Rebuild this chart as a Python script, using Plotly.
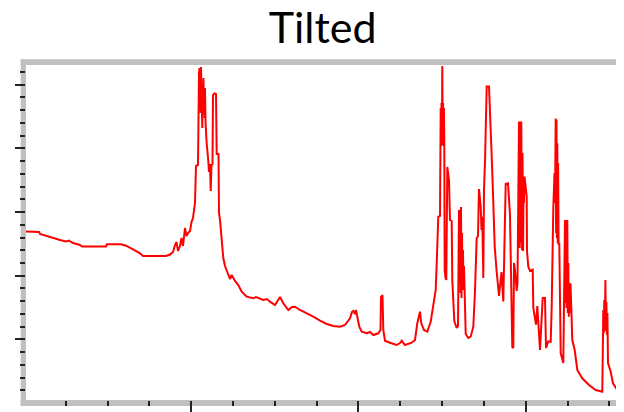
import plotly.graph_objects as go

# Spectrum (x: channel, y: intensity, arbitrary units)
channel = [
    2, 15, 16, 22, 29, 36, 42, 45, 47, 49, 56, 58, 82, 83, 97, 102, 109, 116, 119, 142,
    146, 149, 151, 152.5, 154, 156, 157.5, 159, 161, 162.5, 164, 166, 167.5, 169, 171, 172, 174,
    174.3, 175.0, 175.5, 175.9, 176.3, 176.7, 177.0, 177.4, 177.7, 178.0, 178.3, 178.7, 179.0, 179.5, 179.8, 180.2, 180.6, 181.0, 181.5,
    182.5, 184.3, 185, 186, 186.7, 187.5, 188.5, 189, 190.5, 192, 192.7, 194.5, 195, 196, 197.7, 199.3, 201, 204.3, 206, 207.7,
    209, 211, 214.3, 217.7, 222.7, 229.3, 232, 234, 236, 239.3, 243, 246,
    251, 254, 256, 259.3, 264.3, 268, 271, 276, 282.7, 289.3, 296, 302.7, 309.3, 316, 321, 326, 328, 329.5, 331, 332,
    333.3, 335.3, 337.7, 342.7, 346, 349.3, 354.3, 356.5, 357, 358.5, 359.3, 361, 366, 372.7, 376, 377.7, 381, 387.7, 391, 393.3,
    396, 397.3, 400, 403.3, 406.7, 409.3, 411.7, 412.7, 414.3, 416,
    416.7, 417.1, 417.5, 417.9, 418.3, 418.7, 419.1, 419.5, 419.9, 420.3, 420.7,
    421.5, 422.3, 423.3, 425, 426, 427.7, 428.3, 430.3, 432.7, 434,
    435, 435.5, 436, 436.5, 437, 437.5, 438, 438.5, 439, 439.5, 440, 441,
    441.7, 444.3, 446.7, 449.3, 451, 452.7, 454, 455, 456.7, 457.5, 458.3, 459.3, 460, 461, 462.7, 465, 466, 467.5, 469.3, 470.7,
    472.7, 475, 477.5, 479.3,
    481.7, 484, 486, 486.7, 487, 488.3, 489.3, 490, 491, 492.7, 493.5,
    495, 495.6, 496.2, 496.8, 497.3, 497.9, 498.5, 499.1, 499.6, 500, 500.5, 502.7, 503,
    504.3, 506, 508.7, 509.3, 512, 513.3, 515.3, 516, 518.7, 521, 522, 523.3, 524.3, 526.7, 527.7,
    529.3, 530.5, 531, 531.7, 532.1, 532.5, 532.9, 533.3, 533.7, 534.1, 534.6, 535.3, 536.7, 539.3,
    541, 541.5, 542, 542.5, 543.3, 543.8, 544.3, 544.8, 545.3, 546, 546.5, 548.3, 550.7, 553.3, 558.3, 565, 571.7, 578.3,
    579.3, 579.8, 580.3, 580.8, 581.4, 581.9, 582.4, 582.9, 583.4, 584, 586.7, 589, 593.3, 598.3, 600,
]
intensity = [
    171.5, 171, 169, 167, 165, 163, 161.5, 162.5, 161, 160, 158, 156.5, 156.5, 158.7, 158.7, 157.3, 153.7, 149.7, 147, 147,
    148.5, 151, 158, 161, 152, 157, 165, 157, 175, 167, 170, 172, 181, 185, 200, 237, 238,
    311, 330, 335, 300, 325, 290, 336, 300, 328, 290, 275, 318, 300, 325, 290, 308, 285, 315, 282,
    262, 242, 231, 239, 212, 238, 239, 308, 309.5, 309, 249, 249, 190, 183, 165, 145, 137, 127, 124, 128,
    125, 122, 118, 111.3, 106.3, 104.7, 106, 105, 104.7, 103, 104, 101.3,
    98, 103, 106, 99.7, 93, 96, 96.3, 93, 89.7, 86.3, 82.3, 79, 77, 76.3, 78, 84.7, 91, 92, 89, 93,
    86.3, 76.3, 71.3, 69.7, 71, 68, 69.7, 73, 106, 108, 73, 62.3, 60.3, 58, 60, 62.3, 58, 60.3, 63, 79.7,
    91.3, 79.7, 73, 71.3, 81.3, 96.3, 113, 139.7, 186.3, 187,
    295, 257, 300, 258, 337, 262, 300, 257, 295, 260, 133,
    125, 123, 236, 223, 183, 182, 123, 82, 75, 77,
    193, 120, 190, 110, 196, 105, 170, 120, 153, 113, 137, 103,
    69, 65, 66.3, 76.3, 112, 165, 167, 214, 196.3, 173, 186.3, 125, 213, 241, 316.5, 316.5, 281.5, 252, 201, 156.3,
    131, 107, 131, 101.5,
    219, 219.7, 188, 136, 98, 56, 55, 140, 133, 112, 120,
    281.5, 155, 281.5, 160, 281.5, 153, 250, 152, 226.5, 200, 226.5, 206.5, 152,
    136.3, 132, 133.3, 95, 78.3, 97, 55, 53, 105, 105, 55, 58, 61.7, 61.3, 96.7,
    195, 230, 200, 284.5, 170, 283.3, 165, 259.7, 160, 240, 158, 160, 50, 40,
    183, 100, 183, 95, 183, 90, 140, 86.3, 119.7, 90, 119.7, 63, 53, 33, 24.7, 18, 13, 11.3,
    93, 70, 103, 75, 123, 72, 101, 68, 90, 40, 31.3, 19.7, 13, 8, 9.7,
]
assert len(channel) == len(intensity)

title_text = "Tilted"

# the page body adds an 8px offset, so the figure is drawn 8px smaller
W, H = 616, 404
ml, mr, mt, mb = 18, 0, 57, 12
pw, ph = W - ml - mr, H - mt - mb

fig = go.Figure(go.Scatter(x=channel, y=intensity, mode="lines",
                           line=dict(color="#ff0000", width=2), hoverinfo="skip"))

band = "#c0c0c0"
bw = 5.3
fig.add_shape(type="rect", xref="paper", yref="paper", layer="below",
              x0=-bw / pw, x1=0, y0=-6 / ph, y1=1 + 5.7 / ph,
              fillcolor=band, line=dict(width=0))
fig.add_shape(type="rect", xref="paper", yref="paper", layer="below",
              x0=-bw / pw, x1=1, y0=1, y1=1 + 5.7 / ph,
              fillcolor=band, line=dict(width=0))
fig.add_shape(type="rect", xref="paper", yref="paper", layer="below",
              x0=-bw / pw, x1=1, y0=-6 / ph, y1=0,
              fillcolor=band, line=dict(width=0))

tick_col = "#222222"
fig.update_layout(
    width=W, height=H,
    margin=dict(l=ml, r=mr, t=mt, b=mb, pad=0),
    paper_bgcolor="white", plot_bgcolor="white",
    showlegend=False,
    title=dict(text=title_text, x=314.7 / W, xref="container", xanchor="center",
               y=1 - 20.2 / H, yref="container", yanchor="middle",
               font=dict(family="Lato, Open Sans, sans-serif", size=43, color="#000000")),
    xaxis=dict(range=[2, 600], showgrid=False, zeroline=False, showline=False,
               showticklabels=False, ticks="outside", ticklen=11, tickwidth=2, tickcolor=tick_col,
               tick0=-0.1, dtick=167.28,
               minor=dict(ticks="outside", ticklen=5, tickwidth=2, tickcolor=tick_col,
                          tick0=-0.1, dtick=41.82, showgrid=False)),
    yaxis=dict(range=[3, 338], showgrid=False, zeroline=False, showline=False,
               showticklabels=False, ticks="outside", ticklen=10, tickwidth=2, tickcolor=tick_col,
               tick0=0, dtick=63.65,
               minor=dict(ticks="outside", ticklen=5, tickwidth=2, tickcolor=tick_col,
                          tick0=0, dtick=12.73, showgrid=False)),
)

fig.write_html("out.html")
